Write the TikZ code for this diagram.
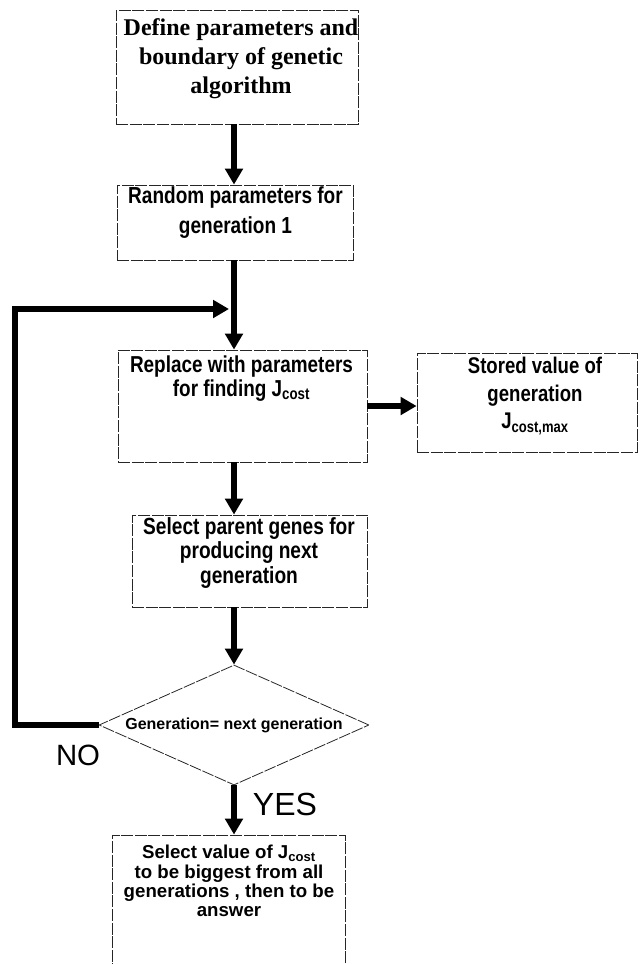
\documentclass[tikz,border=0pt]{standalone}
\usepackage{fontspec}
\setmainfont{Liberation Sans}
\newfontfamily\titlefont{Liberation Serif}
\newfontfamily\narrowfont[FakeStretch=0.82]{Liberation Sans}
\usetikzlibrary{arrows.meta, positioning, shapes.geometric}

\tikzset{
  box/.style={draw=black!85, line width=0.6pt, dash pattern=on 9pt off 1.2pt, rectangle, inner sep=0pt},
  boxtext/.style={align=center, inner sep=0pt, font=\narrowfont\bfseries\fontsize{17.3}{19}\selectfont},
  flow/.style={-{Triangle[width=13pt,length=12pt]}, line width=4.5pt, black},
  answer/.style={inner sep=0pt, font=\fontsize{22}{24}\selectfont}
}

\begin{document}
\begin{tikzpicture}[x=0.75pt, y=-0.75pt]
  \useasboundingbox (0,0) rectangle (640,964);

  % boxes
  \node[box, minimum width=182pt, minimum height=85.5pt] (define) at (237.5,67) {};
  \node[box, minimum width=177pt, minimum height=56.25pt] (random) at (235,222.5) {};
  \node[box, minimum width=186.75pt, minimum height=84pt] (replace) at (242.5,406) {};
  \node[box, minimum width=165pt, minimum height=74.25pt] (stored) at (527,402.5) {};
  \node[box, minimum width=176.25pt, minimum height=69pt] (parents) at (249.5,561) {};
  \node[box, diamond, aspect=2.25, minimum width=202.5pt, minimum height=90pt,
        font=\bfseries\fontsize{12}{14}\selectfont] (check) at (234,725) {Generation= next generation};
  \node[box, minimum width=174.75pt, minimum height=105pt] (best) at (228.5,905) {};

  % texts
  \node[boxtext, font=\titlefont\bfseries\fontsize{18}{21.75}\selectfont] (definetxt) at (241,58.5)
    {Define parameters and\\ boundary of genetic\\ algorithm};
  \node[boxtext, font=\narrowfont\bfseries\fontsize{17.4}{22.5}\selectfont] (randomtxt) at (235.5,213)
    {Random parameters for\\ generation 1};
  \node[boxtext, font=\narrowfont\bfseries\fontsize{17.3}{17.5}\selectfont] (replacetxt) at (241.5,378.5)
    {Replace with parameters\\ for finding J\textsubscript{cost}};
  \node[boxtext, font=\narrowfont\bfseries\fontsize{17}{20.5}\selectfont] (storedtxt) at (535,396)
    {Stored value of\\ generation\\ J\textsubscript{cost,max}};
  \node[boxtext, font=\narrowfont\bfseries\fontsize{17.5}{18.5}\selectfont] (parentstxt) at (249,553)
    {Select parent genes for\\ producing next\\ generation};
  \node[boxtext, font=\bfseries\fontsize{14}{14.5}\selectfont] (besttxt) at (229,881)
    {Select value of J\textsubscript{cost}\\ to be biggest from all\\ generations , then to be\\ answer};

  \node[answer] (no) at (78,755) {NO};
  \node[answer, font=\fontsize{24}{26}\selectfont] (yes) at (285,804) {YES};

  % loop back
  \coordinate (loopcorner) at (15,309);
  \coordinate (join) at (229,309);

  % connectors
  \draw[flow] (define.south -| check.north) -- (random.north -| check.north);
  \draw[flow] (random.south -| check.north) -- (replace.north -| check.north);
  \draw[flow] (replace.east) -- (replace.east -| stored.west);
  \draw[flow] (replace.south -| check.north) -- (parents.north -| check.north);
  \draw[flow] (parents.south -| check.north) -- (check.north);
  \draw[flow] (check.south) -- (best.north -| check.south);
  \draw[flow] (check.west) -- (check.west -| loopcorner) -- (loopcorner) -- (join);
\end{tikzpicture}
\end{document}
